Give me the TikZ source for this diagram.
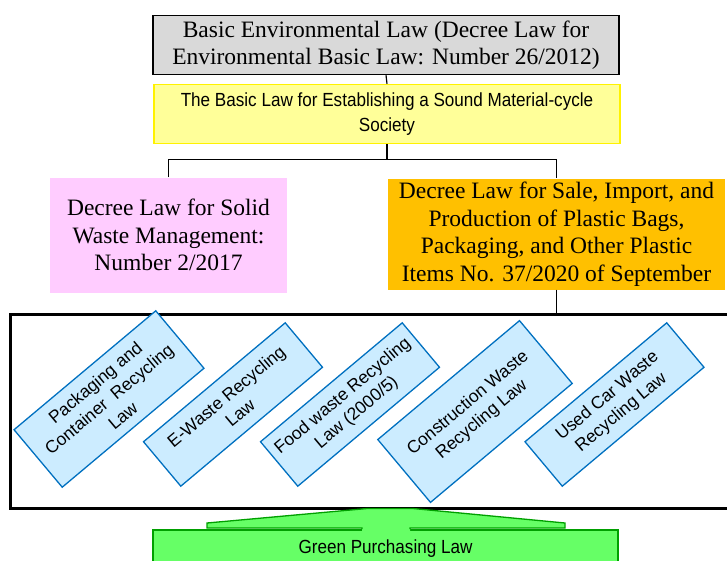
\documentclass[tikz,border=0pt]{standalone}
\usepackage{fontspec}
\setmainfont{Liberation Serif}
\setsansfont{Liberation Sans}
\newfontfamily\narrowsf[FakeStretch=0.9]{Liberation Sans}
\usepackage{tikz}
\definecolor{boxgray}{HTML}{D9D9D9}
\definecolor{lawyellow}{HTML}{FFFF99}
\definecolor{lawpink}{HTML}{FFCCFF}
\definecolor{laworange}{HTML}{FFC000}
\definecolor{lawblue}{HTML}{CCECFF}
\definecolor{lawblueline}{HTML}{0070C0}
\definecolor{lawgreen}{HTML}{66FF66}
\definecolor{lawgreenline}{HTML}{00A000}

\begin{document}
\begin{tikzpicture}[x=1pt, y=-1pt,
		serifbox/.style={inner sep=0pt, align=center, font=\fontsize{23.5}{27.5}\selectfont},
		recyclebox/.style={draw=lawblueline, fill=lawblue, line width=1.3pt, rotate=40,
			minimum width=185pt, inner sep=0pt, align=center,
			font=\sffamily\fontsize{17.5}{21.5}\selectfont},
		link/.style={line width=1.2pt}]
		% Page frame
		\useasboundingbox (0,0) rectangle (727,560);
		\clip (0,0) rectangle (727,560);
		
		% Top of the hierarchy
		\node[serifbox, draw, fill=boxgray, line width=1.5pt, minimum width=466pt, minimum height=59pt]
			(basiclaw) at (386,45) {Basic Environmental Law (Decree Law for\\Environmental Basic Law: Number 26/2012)};
		\node[draw=yellow, fill=lawyellow, line width=1.5pt, minimum width=466pt, minimum height=59pt,
			inner sep=0pt, align=center, font=\narrowsf\fontsize{19}{25}\selectfont]
			(cyclelaw) at (387,114) {The Basic Law for Establishing a Sound Material-cycle\\Society};
		
		% Decree laws
		\node[serifbox, fill=lawpink, minimum width=237pt, minimum height=115pt]
			(solidlaw) at (168.5,235) {Decree Law for Solid\\Waste Management:\\Number 2/2017};
		\node[serifbox, fill=laworange, minimum width=337pt, minimum height=111pt]
			(plasticlaw) at (556.5,234) {Decree Law for Sale, Import, and\\Production of Plastic Bags,\\Packaging, and Other Plastic\\Items No. 37/2020 of September};
		
		% Frame round the recycling laws
		\node[draw, line width=3pt, minimum width=750pt, minimum height=194pt] (lawframe) at (385,411) {};
		
		% Individual recycling laws
		\node[recyclebox, minimum height=75pt] (packlaw) at (109,399) {Packaging and\\Container~ Recycling\\Law};
		\node[recyclebox, minimum height=58pt] (ewastelaw) at (233,404.5) {E-Waste Recycling\\Law};
		\node[recyclebox, minimum height=58pt] (foodlaw) at (350,404.5) {Food waste Recycling\\Law (2000/5)};
		\node[recyclebox, minimum height=82pt] (buildlaw) at (475,411.5) {Construction Waste\\Recycling Law};
		\node[recyclebox, minimum height=58pt] (carlaw) at (614.5,404.5) {Used Car Waste\\Recycling Law};
		
		% Green purchasing and its arrow
		\node[draw=lawgreenline, fill=lawgreen, line width=1.3pt, minimum width=465pt, minimum height=38pt,
			inner sep=0pt, font=\narrowsf\fontsize{19}{23}\selectfont] (greenlaw) at (385.5,549) {Green Purchasing Law};
		\fill[lawgreen] (362,531) -- (362,528) -- (207,528) -- (207,523) -- (367,508.5) -- (413,508.5)
			-- (565,523) -- (565,528) -- (410,528) -- (410,531) -- cycle;
		\draw[lawgreenline, line width=1.3pt] (362,529) -- (362,528) -- (207,528) -- (207,523) -- (367,508.5)
			-- (413,508.5) -- (565,523) -- (565,528) -- (410,528) -- (410,529);
		
		% Connectors
		\draw[link] (basiclaw.south) -- (cyclelaw.north);
		\draw[link] (cyclelaw.south) -- ++(0,15.5) coordinate (split);
		\draw[link] (solidlaw.north) |- (split) -| (plasticlaw.north);
		\draw[link] (plasticlaw.south) -- (plasticlaw.south |- lawframe.north);
	\end{tikzpicture}
\end{document}
